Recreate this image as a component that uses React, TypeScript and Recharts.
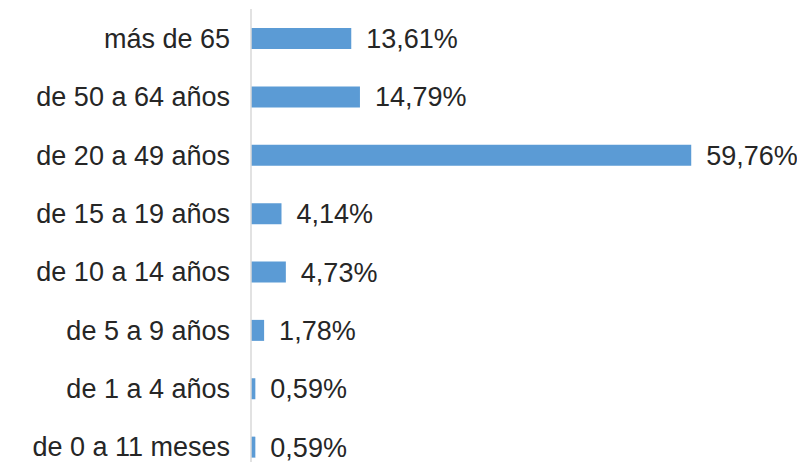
import { BarChart, Bar, XAxis, YAxis, LabelList } from "recharts";

const AGE_GROUPS = [
  "más de 65",
  "de 50 a 64 años",
  "de 20 a 49 años",
  "de 15 a 19 años",
  "de 10 a 14 años",
  "de 5 a 9 años",
  "de 1 a 4 años",
  "de 0 a 11 meses",
];

const SHARES = [13.61, 14.79, 59.76, 4.14, 4.73, 1.78, 0.59, 0.59];

const data = AGE_GROUPS.map((group, i) => ({ group, share: SHARES[i] }));

const FONT = "'Liberation Sans', Arial, sans-serif";

const formatPct = (v: number) => `${v.toFixed(2).replace(".", ",")}%`;

const App = () => {
  return (
    <div style={{ margin: "-8px 0 0 -8px", width: 805, height: 462, overflow: "hidden" }}>
      <BarChart
        width={805}
        height={480}
        data={data}
        layout="vertical"
        margin={{ top: 9, right: 112, bottom: 4, left: 0 }}
        barSize={21}
      >
        <XAxis type="number" domain={[0, 60]} hide />
        <YAxis
          type="category"
          dataKey="group"
          width={251}
          tickLine={false}
          tickMargin={15}
          axisLine={{ stroke: "#d9d9d9", strokeWidth: 1.5 }}
          tick={{ fontSize: 27, fill: "#262626", fontFamily: FONT }}
        />
        <Bar dataKey="share" fill="#5b9bd5" isAnimationActive={false}>
          <LabelList
            dataKey="share"
            position="right"
            offset={15}
            formatter={(v: any) => formatPct(Number(v))}
            style={{ fontSize: 27, fill: "#262626", fontFamily: FONT }}
          />
        </Bar>
      </BarChart>
    </div>
  );
};

export default App;
